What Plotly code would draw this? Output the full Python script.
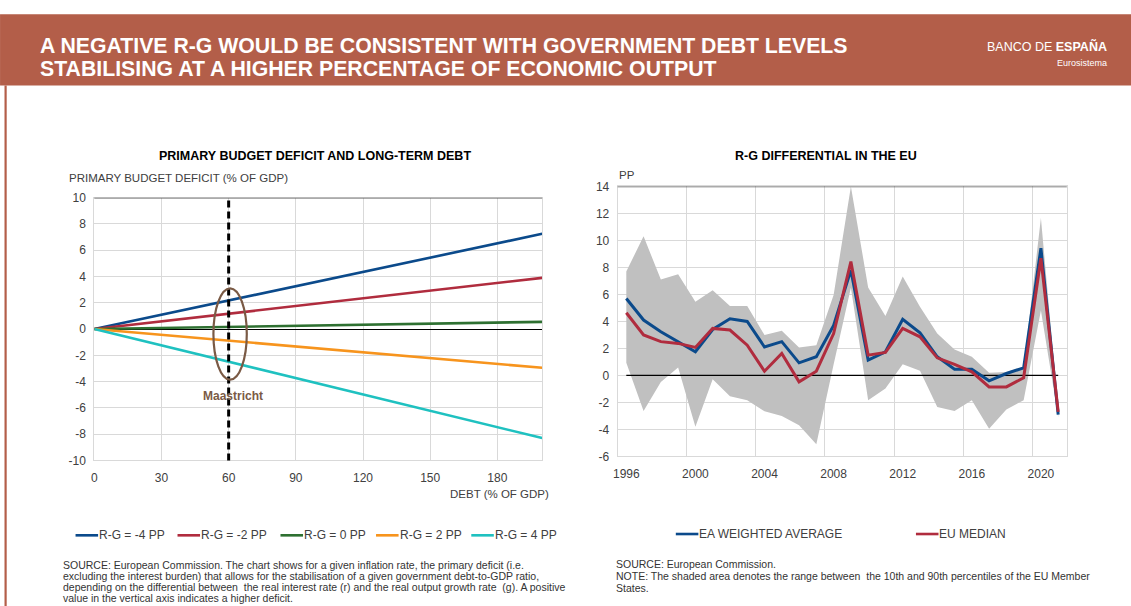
import plotly.graph_objects as go

W, H = 1131, 606
FONT = "Liberation Sans"
HEADER_RED = "#b35e49"
TICK_GREY = "#404040"
NOTE_GREY = "#333333"
GRID = "#d9d9d9"

# ---- Left panel: primary deficit that keeps debt stable, by r-g scenario ----
debt = [0, 30, 60, 90, 120, 150, 180, 200]
scenario_labels = ["R-G = -4 PP", "R-G = -2 PP", "R-G = 0 PP", "R-G = 2 PP", "R-G = 4 PP"]
deficit_rg_m4 = [0, 1.09, 2.18, 3.26, 4.35, 5.44, 6.53, 7.25]
deficit_rg_m2 = [0, 0.59, 1.17, 1.76, 2.34, 2.93, 3.51, 3.90]
deficit_rg_0 = [0, 0.08, 0.17, 0.25, 0.33, 0.41, 0.50, 0.55]
deficit_rg_p2 = [0, -0.44, -0.89, -1.33, -1.77, -2.21, -2.66, -2.95]
deficit_rg_p4 = [0, -1.25, -2.49, -3.74, -4.98, -6.23, -7.47, -8.30]
scenario_colors = ["#0b4a8b", "#b02c3e", "#2e7031", "#f7941d", "#1fc1c0"]
debt_ticks = [0, 30, 60, 90, 120, 150, 180]
deficit_ticks = [-10, -8, -6, -4, -2, 0, 2, 4, 6, 8, 10]
maastricht_debt = 60

# ---- Right panel: r-g differential in the EU ----
years = list(range(1996, 2022))
ea_weighted = [5.7, 4.1, 3.23, 2.5, 1.75, 3.4, 4.2, 4.0, 2.1, 2.5, 0.93, 1.38, 3.7,
               7.8, 1.13, 1.75, 4.15, 3.16, 1.38, 0.46, 0.46, -0.4, 0.14, 0.56, 9.42, -2.9]
eu_median = [4.64, 3.0, 2.5, 2.37, 2.07, 3.48, 3.36, 2.24, 0.31, 1.62, -0.48, 0.31, 3.1,
             8.43, 1.5, 1.7, 3.48, 2.86, 1.30, 0.81, 0.26, -0.85, -0.85, -0.18, 8.68, -2.7]
p90 = [7.7, 10.3, 7.1, 7.5, 5.46, 6.3, 5.14, 5.14, 2.99, 3.3, 2.07, 2.24, 5.95,
       14.0, 6.52, 4.4, 7.32, 5.09, 3.1, 1.92, 1.38, 0.19, 0.26, 0.63, 11.65, -2.5]
p10 = [0.93, -2.63, -0.48, 0.58, -3.8, -0.28, -1.54, -1.84, -2.66, -3.0, -3.7, -5.1, 0.8,
       6.5, -1.84, -0.97, 0.83, 0.34, -2.34, -2.63, -1.84, -3.95, -2.53, -1.84, 4.8, -3.1]
year_ticks = [1996, 2000, 2004, 2008, 2012, 2016, 2020]
pp_ticks = [-6, -4, -2, 0, 2, 4, 6, 8, 10, 12, 14]
series_labels = ["EA WEIGHTED AVERAGE", "EU MEDIAN"]
series_colors = ["#0b4a8b", "#b02c3e"]

header_lines = ["A NEGATIVE R-G WOULD BE CONSISTENT WITH GOVERNMENT DEBT LEVELS",
                "STABILISING AT A HIGHER PERCENTAGE OF ECONOMIC OUTPUT"]
left_note = ["SOURCE: European Commission. The chart shows for a given inflation rate, the primary deficit (i.e.",
             "excluding the interest burden) that allows for the stabilisation of a given government debt-to-GDP ratio,",
             "depending on the differential between  the real interest rate (r) and the real output growth rate  (g). A positive",
             "value in the vertical axis indicates a higher deficit."]
right_note = ["SOURCE: European Commission.",
              "NOTE: The shaded area denotes the range between  the 10th and 90th percentiles of the EU Member",
              "States."]

# The page keeps the browser's default body margin, so the whole page
# (figure + margin) is what ends up in the frame. Layout positions below are
# written in frame pixels and converted to paper fractions here.
PAGE_MARGIN = 8
SX = (W + PAGE_MARGIN) / W
SY = (H + 2 * PAGE_MARGIN) / H


def px_x(v):
    return (v * SX - PAGE_MARGIN) / W


def px_y(v):
    return 1 - (v * SY - PAGE_MARGIN) / H


fig = go.Figure()

left_series = [deficit_rg_m4, deficit_rg_m2, deficit_rg_0, deficit_rg_p2, deficit_rg_p4]
for name, vals, col in zip(scenario_labels, left_series, scenario_colors):
    fig.add_trace(go.Scatter(x=debt, y=vals, mode="lines", name=name,
                             line=dict(color=col, width=2.6),
                             xaxis="x", yaxis="y", showlegend=False, hoverinfo="skip"))

# percentile band
fig.add_trace(go.Scatter(x=years, y=p10, mode="lines", line=dict(width=0, color="#c0c0c0"),
                         xaxis="x2", yaxis="y2", showlegend=False, hoverinfo="skip"))
fig.add_trace(go.Scatter(x=years, y=p90, mode="lines", line=dict(width=0, color="#c0c0c0"),
                         fill="tonexty", fillcolor="#c0c0c0",
                         xaxis="x2", yaxis="y2", showlegend=False, hoverinfo="skip"))
# zero reference over the covered years
fig.add_trace(go.Scatter(x=[years[0], years[-1]], y=[0, 0], mode="lines",
                         line=dict(color="black", width=1.2),
                         xaxis="x2", yaxis="y2", showlegend=False, hoverinfo="skip"))
for name, vals, col in zip(series_labels, [ea_weighted, eu_median], series_colors):
    fig.add_trace(go.Scatter(x=years, y=vals, mode="lines", name=name,
                             line=dict(color=col, width=3),
                             xaxis="x2", yaxis="y2", showlegend=False, hoverinfo="skip"))

tickfont = dict(family=FONT, size=12, color=TICK_GREY)

fig.update_layout(
    width=W, height=H,
    margin=dict(l=0, r=0, t=0, b=0),
    paper_bgcolor="white", plot_bgcolor="white",
    font=dict(family=FONT, color=TICK_GREY),
    xaxis=dict(domain=[px_x(97), px_x(543.7)], range=[0, 200], tickvals=debt_ticks,
               showgrid=True, gridcolor=GRID, gridwidth=1, zeroline=False,
               showline=True, mirror=True, linecolor=GRID, linewidth=1,
               ticks="", tickfont=tickfont, ticklabelstandoff=6, fixedrange=True),
    yaxis=dict(domain=[px_y(460), px_y(198)], range=[-10, 10],
               tickvals=deficit_ticks, ticktext=[str(v) for v in deficit_ticks],
               showgrid=True, gridcolor=GRID, gridwidth=1,
               zeroline=True, zerolinecolor="black", zerolinewidth=1,
               showline=True, mirror=True, linecolor=GRID, linewidth=1,
               ticks="", tickfont=tickfont, ticklabelstandoff=5, fixedrange=True),
    xaxis2=dict(domain=[px_x(619), px_x(1067)], range=[1995.5, 2021.5], tickvals=year_ticks,
                showgrid=False, zeroline=False,
                minor=dict(tick0=1995.5, dtick=4, showgrid=True, gridcolor=GRID, gridwidth=1),
                showline=True, mirror=True, linecolor=GRID, linewidth=1,
                ticks="", tickfont=tickfont, ticklabelstandoff=6, anchor="y2", fixedrange=True),
    yaxis2=dict(domain=[px_y(456), px_y(186.7)], range=[-6, 14],
                tickvals=pp_ticks, ticktext=[str(v) for v in pp_ticks],
                showgrid=True, gridcolor=GRID, gridwidth=1, zeroline=False,
                showline=True, mirror=True, linecolor=GRID, linewidth=1,
                ticks="", tickfont=tickfont, ticklabelstandoff=5, anchor="x2", fixedrange=True),
)

shapes = []
# header band and left rule
shapes.append(dict(type="rect", xref="paper", yref="paper", x0=px_x(3), x1=1.01,
                   y0=px_y(86), y1=px_y(15), fillcolor=HEADER_RED, line=dict(width=0),
                   layer="below"))
shapes.append(dict(type="line", xref="paper", yref="paper", x0=0.6 / W, x1=0.6 / W,
                   y0=-0.02, y1=px_y(86), line=dict(color=HEADER_RED, width=2.2)))
# dark top borders of both plot areas
shapes.append(dict(type="line", xref="x domain", yref="y", x0=0, x1=1, y0=10, y1=10,
                   line=dict(color="#595959", width=1.5)))
shapes.append(dict(type="line", xref="x2 domain", yref="y2", x0=0, x1=1, y0=14, y1=14,
                   line=dict(color="#595959", width=1.5)))
# Maastricht reference: 60% debt
shapes.append(dict(type="line", xref="x", yref="y domain", x0=maastricht_debt, x1=maastricht_debt,
                   y0=0, y1=1, line=dict(color="black", width=3, dash="7px,4px")))
shapes.append(dict(type="circle", xref="x", yref="y", x0=53.2, x1=68.1, y0=-3.85, y1=3.1,
                   line=dict(color="#7a5a45", width=2.2)))

annotations = []


def txt(x, y, text, size, color="black", xanchor="left", bold=False):
    return dict(xref="paper", yref="paper", x=px_x(x), y=px_y(y), xanchor=xanchor,
                yanchor="middle", showarrow=False, borderpad=0,
                text=f"<b>{text}</b>" if bold else text,
                font=dict(family=FONT, size=size, color=color))


# manual legends: short line sample followed by the label
def legend_entry(x_line0, y, color, label):
    shapes.append(dict(type="line", xref="paper", yref="paper",
                       x0=px_x(x_line0), x1=px_x(x_line0 + 22.5),
                       y0=px_y(y), y1=px_y(y), line=dict(color=color, width=2.6)))
    annotations.append(txt(x_line0 + 22.5, y, label, 12, TICK_GREY))


for x0, col, lab in zip([78.3, 180, 282.7, 378, 473], scenario_colors, scenario_labels):
    legend_entry(x0, 534.7, col, lab)
for x0, col, lab in zip([677, 916.5], series_colors, series_labels):
    legend_entry(x0, 533.4, col, lab)

# header texts
for line, y in zip(header_lines, [47, 70]):
    annotations.append(txt(42, y, line, 21.25, "white", bold=True))
annotations.append(txt(1108, 47, "BANCO DE <b>ESPAÑA</b>", 12.5, "white", "right"))
annotations.append(txt(1108, 64, "Eurosistema", 9, "white", "right"))

# panel titles and axis captions
annotations.append(txt(317, 156, "PRIMARY BUDGET DEFICIT AND LONG-TERM DEBT", 12.5, "black", "center", True))
annotations.append(txt(827, 156, "R-G DIFFERENTIAL IN THE EU", 12.5, "black", "center", True))
annotations.append(txt(71, 178, "PRIMARY BUDGET DEFICIT (% OF GDP)", 11.5, TICK_GREY))
annotations.append(txt(552, 493, "DEBT (% OF GDP)", 11.5, TICK_GREY, "right"))
annotations.append(txt(619, 175, "PP", 11.5, TICK_GREY))
annotations.append(dict(xref="x", yref="y", x=61.8, y=-5.1, xanchor="center", yanchor="middle",
                        showarrow=False, text="<b>Maastricht</b>",
                        font=dict(family=FONT, size=12, color="#7a5a45")))

# notes below each panel
for line, y in zip(left_note, [564, 575.5, 586.5, 597]):
    annotations.append(txt(65, y, line, 10.5, NOTE_GREY))
for line, y in zip(right_note, [563.5, 575.5, 587.5]):
    annotations.append(txt(616, y, line, 10.5, NOTE_GREY))

fig.update_layout(shapes=shapes, annotations=annotations)
fig.write_html("out.html")
